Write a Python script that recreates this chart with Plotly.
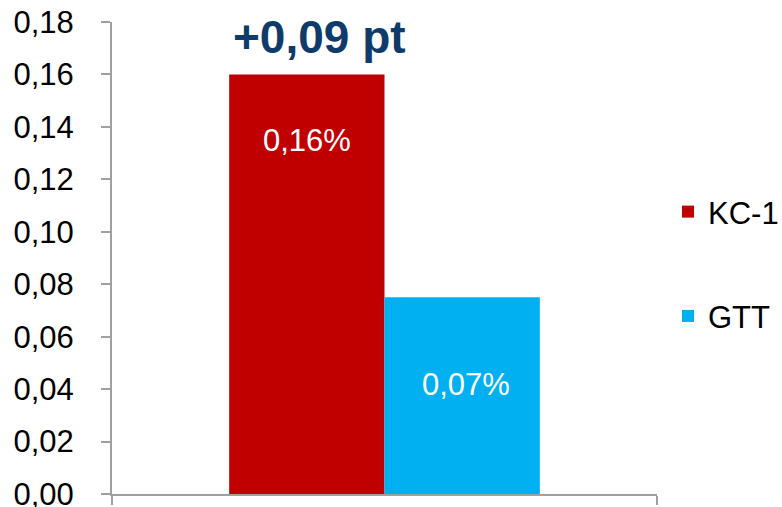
import plotly.graph_objects as go

categories = [""]
series_names = ["KC-1", "GTT"]
kc1_values = [0.16]
gtt_values = [0.075]
value_labels = ["0,16%", "0,07%"]
tick_values = [0, 0.02, 0.04, 0.06, 0.08, 0.10, 0.12, 0.14, 0.16, 0.18]
tick_labels = ["0,00", "0,02", "0,04", "0,06", "0,08", "0,10", "0,12", "0,14", "0,16", "0,18"]
diff_label = "+0,09 pt"

colors = ["#C00000", "#00B0F0"]
FONT = "Liberation Sans, Arial, sans-serif"

fig = go.Figure()
for name, vals, col in zip(series_names, [kc1_values, gtt_values], colors):
    fig.add_trace(go.Bar(
        x=categories, y=vals, name=name, marker=dict(color=col, line=dict(width=0)),
        legendgroup=name, hoverinfo="skip",
    ))

fig.update_layout(
    width=782, height=507,
    margin=dict(l=112, r=125, t=22, b=13, autoexpand=False),
    paper_bgcolor="white", plot_bgcolor="white",
    barmode="group", bargap=0.43, bargroupgap=0,
    font=dict(family=FONT, color="black"),
    showlegend=True,
    legend=dict(
        x=668 / 782, xref="container", xanchor="left",
        y=(507 - 185) / 507, yref="container", yanchor="top",
        font=dict(size=31, color="black", family=FONT),
        traceorder="grouped", tracegroupgap=61,
        bgcolor="rgba(0,0,0,0)", borderwidth=0,
    ),
    xaxis=dict(
        showgrid=False, zeroline=False, showline=True, linecolor="#A0A0A0", linewidth=2,
        ticks="outside", tickson="boundaries", ticklen=9, tickcolor="#A0A0A0", tickwidth=2,
        showticklabels=False, range=[-0.5, 0.5],
    ),
    yaxis=dict(
        range=[0, 0.18], tickvals=tick_values, ticktext=tick_labels,
        showgrid=False, zeroline=False, showline=True, linecolor="#A0A0A0", linewidth=2,
        ticks="outside", ticklen=9, tickcolor="#A0A0A0", tickwidth=2,
        tickfont=dict(size=31, color="black", family=FONT),
        ticklabelstandoff=21, ticklabeloverflow="allow",
    ),
)

# value labels inside bars
label_y = [0.135, 0.0417]
shifts = [-78, 81]
for txt, yy, sh in zip(value_labels, label_y, shifts):
    fig.add_annotation(
        x=categories[0], y=yy, xref="x", yref="y", xshift=sh, text=txt, showarrow=False,
        font=dict(size=31, color="white", family=FONT), xanchor="center", yanchor="middle",
    )

fig.add_annotation(
    x=(319 - 112) / 545, y=(494 - 37) / 472, xref="paper", yref="paper",
    text="<b>" + diff_label + "</b>", showarrow=False,
    font=dict(size=46, color="#0F3B6B", family=FONT), xanchor="center", yanchor="middle",
)

fig.write_html("out.html", config={"displayModeBar": False},
               post_script="document.body.style.margin='0';")
